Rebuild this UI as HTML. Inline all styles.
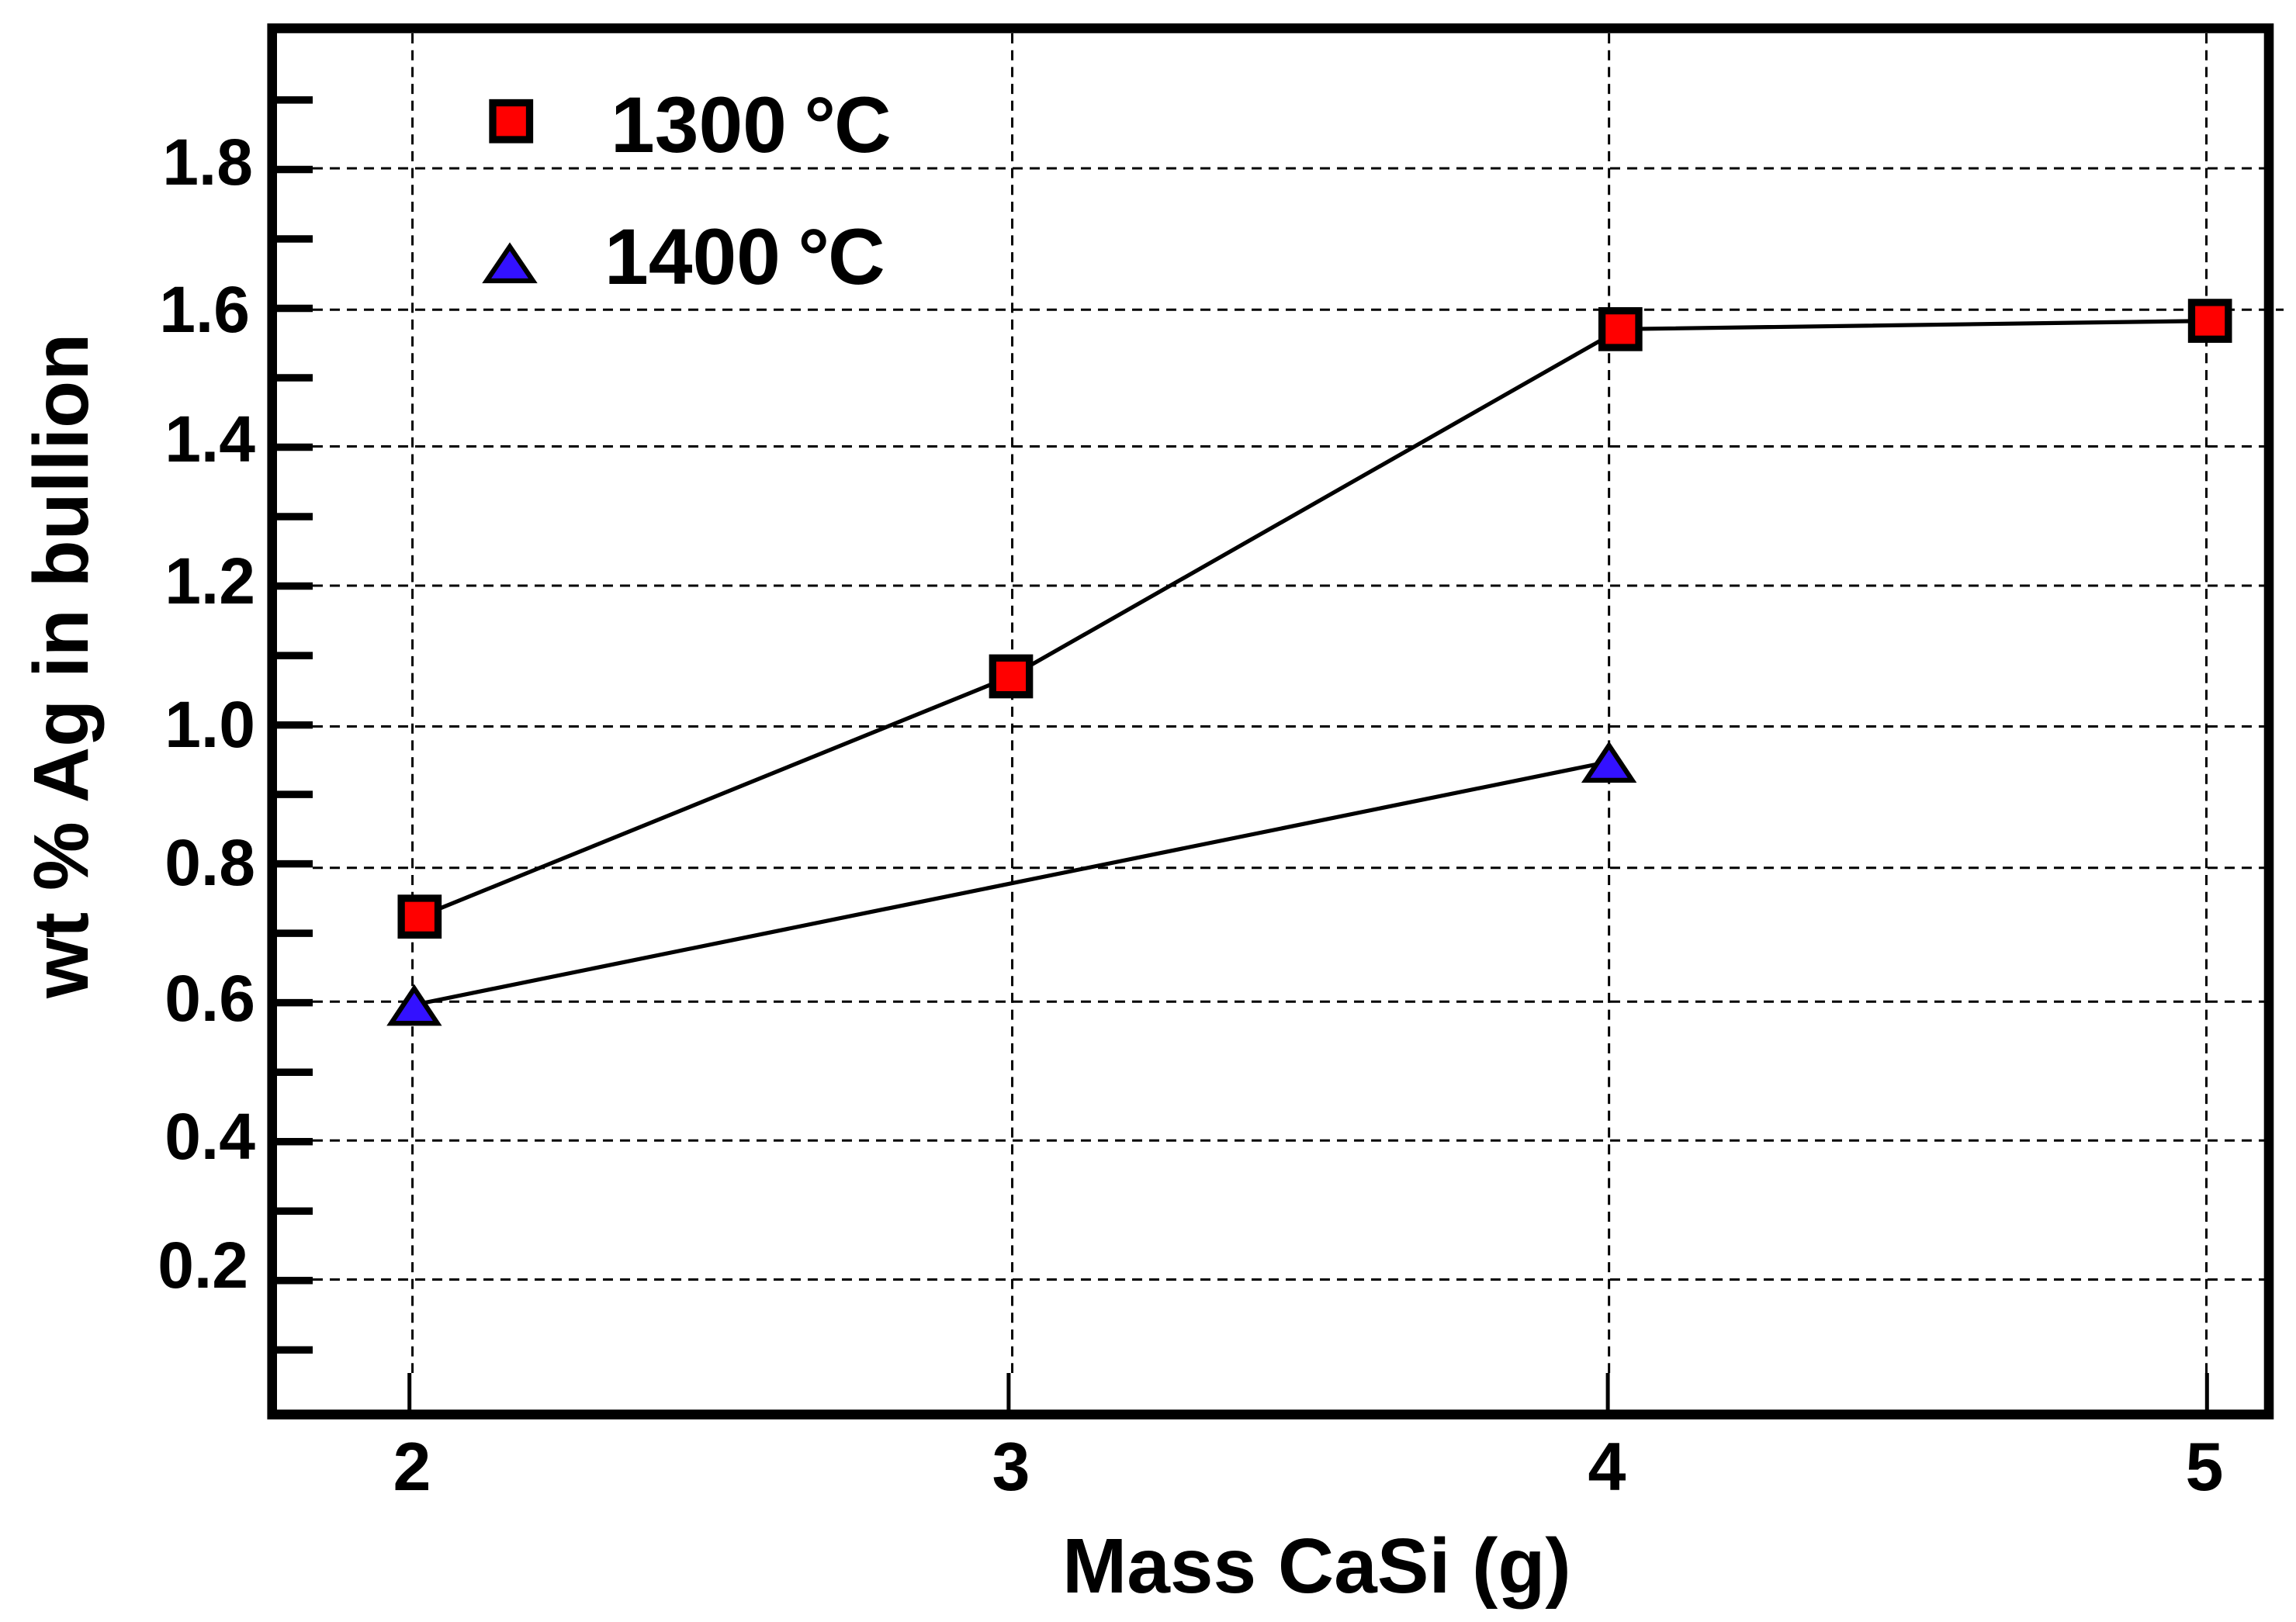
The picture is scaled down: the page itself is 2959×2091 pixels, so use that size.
<!DOCTYPE html>
<html lang="en">
<head>
<meta charset="utf-8">
<title>wt % Ag in bullion vs Mass CaSi</title>
<style>
  html, body { margin: 0; padding: 0; background: #fff; }
  svg { display: block; }
  text { font-family: "Liberation Sans", sans-serif; font-weight: 700; fill: #000; }
  .ytl { font-size: 84px; text-anchor: end; }
  .xtl { font-size: 88px; text-anchor: middle; }
  .leg { font-size: 102px; word-spacing: -6px; }
  .ttl { font-size: 100px; }
</style>
</head>
<body>
<svg id="chart" xmlns="http://www.w3.org/2000/svg" width="2959" height="2091" viewBox="0 0 2959 2091">
  <rect x="0" y="0" width="2959" height="2091" fill="#fff"/>
  <g id="grid"></g>
  <g id="ticks"></g>
  <g id="series"></g>
  <rect x="350.7" y="36.5" width="2573.3" height="1787" fill="none" stroke="#000" stroke-width="12.6"/>

  <g>
    <text class="ytl" x="326" y="238">1.8</text>
    <text class="ytl" x="322" y="428">1.6</text>
    <text class="ytl" x="329" y="595">1.4</text>
    <text class="ytl" x="329" y="778">1.2</text>
    <text class="ytl" x="329" y="963">1.0</text>
    <text class="ytl" x="329" y="1141">0.8</text>
    <text class="ytl" x="329" y="1316">0.6</text>
    <text class="ytl" x="329" y="1494">0.4</text>
    <text class="ytl" x="320" y="1660">0.2</text>
  </g>
  <g>
    <text class="xtl" x="531" y="1921">2</text>
    <text class="xtl" x="1303" y="1921">3</text>
    <text class="xtl" x="2071" y="1921">4</text>
    <text class="xtl" x="2841" y="1921">5</text>
  </g>

  <text class="ttl" x="1369" y="2053">Mass CaSi (g)</text>
  <text class="ttl" transform="translate(113 1287) rotate(-90)">wt % Ag in bullion</text>

  <g>
    <g>
      <rect x="635" y="132.5" width="47.5" height="47.5" fill="#ff0000" stroke="#000" stroke-width="9.3"/>
      <text class="leg" x="787" y="196">1300 °<tspan dx="-2">C</tspan></text>
    </g>
    <g>
      <polygon points="657,318 627.2,362 686.8,362" fill="#3311ff" stroke="#000" stroke-width="6.3" stroke-miterlimit="10"/>
      <text class="leg" x="779" y="366">1400 °<tspan dx="-2">C</tspan></text>
    </g>
  </g>
</svg>

<script>
// Axis tick values
const xTickValues = [2, 3, 4, 5];
const yTickValues = [0.1, 0.2, 0.3, 0.4, 0.5, 0.6, 0.7, 0.8, 0.9, 1.0, 1.1, 1.2, 1.3, 1.4, 1.5, 1.6, 1.7, 1.8, 1.9];
const yMajorTickValues = [0.2, 0.4, 0.6, 0.8, 1.0, 1.2, 1.4, 1.6, 1.8];

// Hand-drawn grid lines, as read in data units (slightly off the nominal ticks)
const xGridValues = [2.005, 3.006, 4.002, 4.999];
const yGridValues = [1.8016, 1.598, 1.4012, 1.2006, 0.9979, 0.7943, 0.6016, 0.4016, 0.2014];

// Series data
const massCaSi1300 = [2.017, 3.004, 4.021, 5.005];
const wtAg1300 = [0.724, 1.070, 1.570, 1.582];
const massCaSi1400 = [2.008, 4.002];
const wtAg1400 = [0.597, 0.947];

// Axis functions
function xAxis(v) { return 1686 + 772.2 * (v - 3.5); }
function yAxis(v) { return 934.6 + 895.2 * (1 - v); }

const SVG_NS = 'http://www.w3.org/2000/svg';
function make(tag, attrs, parent) {
  const el = document.createElementNS(SVG_NS, tag);
  for (const k in attrs) el.setAttribute(k, attrs[k]);
  parent.appendChild(el);
  return el;
}

const gridLayer = document.getElementById('grid');
const tickLayer = document.getElementById('ticks');
const seriesLayer = document.getElementById('series');

xGridValues.forEach(function (v) {
  const line = make('line', { x1: xAxis(v), x2: xAxis(v), y1: 43, y2: 1770, stroke: '#000', 'stroke-width': 3, 'stroke-dasharray': '13 8.7' }, gridLayer);
  
  
});

yGridValues.forEach(function (v, i) {
  const xEnd = i === 1 ? 2943 : 2918;
  const line = make('line', { x1: 403, x2: xEnd, y1: yAxis(v), y2: yAxis(v), stroke: '#000', 'stroke-width': 3, 'stroke-dasharray': '13 9' }, gridLayer);
  
  
});

yTickValues.forEach(function (v) {
  const tick = make('line', { x1: 357, x2: 403, y1: yAxis(v), y2: yAxis(v), stroke: '#000', 'stroke-width': 9.5 }, tickLayer);
  
  
});

xTickValues.forEach(function (v) {
  const tick = make('line', { x1: xAxis(v), x2: xAxis(v), y1: 1818, y2: 1770, stroke: '#000', 'stroke-width': 5 }, tickLayer);
  
  
});

function linePoints(xs, ys) {
  return xs.map(function (x, i) { return xAxis(x) + ',' + yAxis(ys[i]); }).join(' ');
}

const line1400 = make('polyline', { points: linePoints(massCaSi1400, wtAg1400), fill: 'none', stroke: '#000', 'stroke-width': 5.2 }, seriesLayer);



const line1300 = make('polyline', { points: linePoints(massCaSi1300, wtAg1300), fill: 'none', stroke: '#000', 'stroke-width': 5.2 }, seriesLayer);



massCaSi1400.forEach(function (x, i) {
  const cx = xAxis(x);
  const cy = yAxis(wtAg1400[i]);
  const pts = cx + ',' + (cy - 21) + ' ' + (cx - 29.8) + ',' + (cy + 23.8) + ' ' + (cx + 29.8) + ',' + (cy + 23.8);
  const tri = make('polygon', { points: pts, fill: '#3311ff', stroke: '#000', 'stroke-width': 6.3, 'stroke-miterlimit': 10 }, seriesLayer);
  
  
});

massCaSi1300.forEach(function (x, i) {
  const cx = xAxis(x);
  const cy = yAxis(wtAg1300[i]);
  const sq = make('rect', { x: cx - 23.7, y: cy - 23.7, width: 47.4, height: 47.4, fill: '#ff0000', stroke: '#000', 'stroke-width': 9.3 }, seriesLayer);
  
  
});
</script>
</body>
</html>
